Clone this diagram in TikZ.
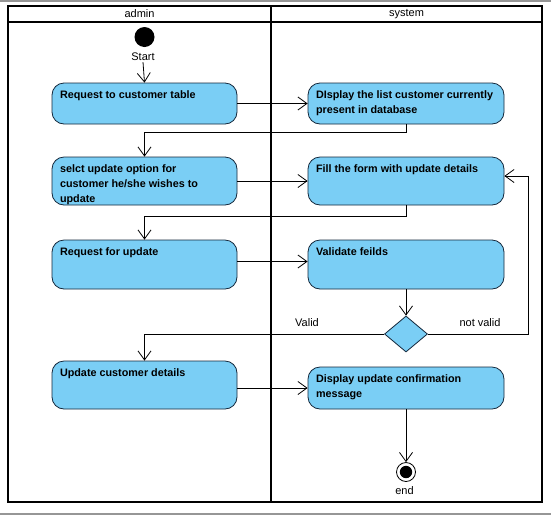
\documentclass[tikz,border=0pt]{standalone}
\usepackage{fontspec}
\setmainfont{Liberation Sans}
\usetikzlibrary{arrows.meta,shapes.geometric,calc}
\definecolor{actblue}{RGB}{122,206,245}
\definecolor{actline}{RGB}{20,40,60}
\definecolor{edgegray}{RGB}{150,150,150}
\newcommand{\acttext}[3]{\parbox[c][#2][t]{#1}{\raggedright\rule{0pt}{15pt}#3}}
\tikzset{
  act/.style={draw=actline, fill=actblue, line width=0.8pt, rounded corners=12pt,
    inner xsep=8pt, inner ysep=0pt, font=\bfseries\fontsize{10.8}{15}\selectfont, text=black},
  lbl/.style={font=\fontsize{11}{13}\selectfont, inner sep=1pt},
  arr/.style={line width=0.8pt, -{Straight Barb[length=9pt,width=13pt,line width=0.8pt]}},
  frame/.style={line width=1.6pt, draw=black},
  decision/.style={diamond, draw=actline, fill=actblue, line width=0.8pt, minimum width=43pt, minimum height=36pt, inner sep=0pt, aspect=1.2}
}
\begin{document}
\begin{tikzpicture}[x=1pt,y=-1pt]
\useasboundingbox (0,0) rectangle (551,515);
\fill[white] (0,0) rectangle (551,515);
% window edges
\draw[edgegray, line width=1.2pt] (0,1) -- (551,1);
\draw[edgegray, line width=2pt] (0,514) -- (551,514);
% swimlane frame
\draw[frame] (8,6) rectangle (542,502);
\draw[frame] (8,22) -- (542,22);
\draw[frame] (271,6) -- (271,502);
\node[lbl] (laneA) at (139.5,14) {admin};
\node[lbl] (laneS) at (406.5,14) {system};
% start
\fill (144.5,37) circle (10) coordinate (start);
\node[lbl] (startlbl) at (143,57) {Start};
% activities
\node[act] (b1) at (144.5,103.5) {\acttext{169pt}{41pt}{Request to customer table}};
\node[act] (b2) at (406,103.5) {\acttext{180pt}{41pt}{DIsplay the list customer currently\\present in database}};
\node[act] (b3) at (144.5,181) {\acttext{169pt}{48pt}{selct update option for\\customer he/she wishes to\\update}};
\node[act] (b4) at (406,181) {\acttext{180pt}{48pt}{Fill the form with update details}};
\node[act] (b5) at (144.5,264.5) {\acttext{169pt}{49pt}{Request for update}};
\node[act] (b6) at (406,264.5) {\acttext{180pt}{49pt}{Validate feilds}};
\node[decision] (dia) at (406,334) {};
\node[act] (b7) at (144.5,385) {\acttext{169pt}{48pt}{Update customer details}};
\node[act] (b8) at (406,388) {\acttext{180pt}{42pt}{Display update confirmation\\message}};
% end
\node[circle, draw=black, fill=white, line width=0.8pt, minimum size=19pt, inner sep=0pt] (endc) at (406,472) {};
\fill (endc.center) circle (6.2);
\node[lbl] (endlbl) at (404.5,491) {end};
% connectors
\draw[arr] (startlbl.south) -- (b1.north);
\draw[arr] (b1.east) -- (b1.east -| b2.west);
\draw[arr] (b2.south) -- ++(0,8) -| (b3.north);
\draw[arr] (b3.east) -- (b3.east -| b4.west);
\draw[arr] (b4.south) -- ++(0,11) -| (b5.north);
\draw[arr] ($(b5.east)+(0,-3)$) -- ($(b5.east -| b6.west)+(0,-3)$);
\draw[arr] (b6.south) -- (dia.north);
\draw[arr] (dia.west) -| (b7.north);
\node[lbl] (validlbl) at (307,323) {Valid};
\coordinate (loop) at (528,176);
\draw[arr] (dia.east) -| (loop) -- (loop -| b4.east);
\node[lbl] (nvlbl) at (480,323) {not valid};
\draw[arr] (b8.west -| b7.east) -- (b8.west);
\draw[arr] (b8.south) -- (endc.north);
\end{tikzpicture}
\end{document}
